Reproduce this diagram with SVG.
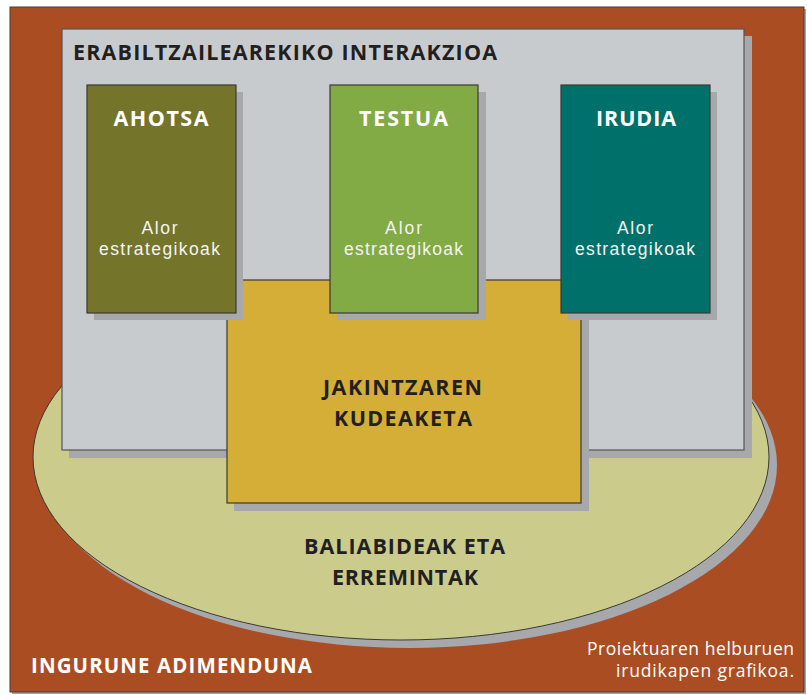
<svg xmlns="http://www.w3.org/2000/svg" width="807" height="695" viewBox="0 0 807 695">
<style>
.shadow{fill:#a7a8ac}
.box{stroke:#3a3a32;stroke-width:1.2}
.t{font-family:"Open Sans","Liberation Sans",sans-serif}
.hb{font-weight:bold;font-size:21.5px;fill:#231f20}
.hw{font-weight:bold;font-size:21.5px;fill:#ffffff;text-anchor:middle}
.sw{font-family:"Liberation Sans",Arial,sans-serif;font-size:17.5px;fill:#f4f4f0;text-anchor:middle}
</style>
<rect width="807" height="695" fill="#ffffff"/>
<g id="ingurune">
<rect x="12" y="9" width="794" height="685" class="shadow"/>
<rect x="10" y="7" width="794" height="685" fill="#ab4d22" stroke="#4a3a30" stroke-width="1"/>
<text class="t" x="31" y="673" textLength="281" lengthAdjust="spacing" style="font-weight:bold;font-size:20.5px;fill:#ffffff">INGURUNE ADIMENDUNA</text>
<text class="t" x="794" y="655" textLength="207" lengthAdjust="spacing" style="font-size:17.5px;fill:#ffffff;text-anchor:end">Proiektuaren helburuen</text>
<text class="t" x="794" y="677" textLength="178" lengthAdjust="spacing" style="font-size:17.5px;fill:#ffffff;text-anchor:end">irudikapen grafikoa.</text>
</g>
<g id="baliabideak">
<ellipse cx="409" cy="465" rx="368" ry="183" class="shadow"/>
<ellipse cx="401" cy="457" rx="368" ry="183" fill="#cbcb8c" stroke="#3a3a32" stroke-width="1"/>
<text class="t hb" x="404.5" y="554" text-anchor="middle" textLength="201" lengthAdjust="spacing">BALIABIDEAK ETA</text>
<text class="t hb" x="405" y="585" text-anchor="middle" textLength="146" lengthAdjust="spacing">ERREMINTAK</text>
</g>
<g id="interakzioa">
<rect x="69" y="36" width="683" height="422" class="shadow"/>
<rect x="62" y="29" width="682" height="421" fill="#c8cbce" stroke="#555" stroke-width="1.2"/>
<text class="t hb" x="73" y="60" textLength="424" lengthAdjust="spacing">ERABILTZAILEAREKIKO INTERAKZIOA</text>
</g>
<g id="jakintza">
<rect x="234" y="287" width="355" height="224" class="shadow"/>
<rect x="227" y="280" width="354" height="223" fill="#d5ae37" class="box"/>
<text class="t hb" x="402.5" y="395" text-anchor="middle" textLength="159" lengthAdjust="spacing">JAKINTZAREN</text>
<text class="t hb" x="403" y="426" text-anchor="middle" textLength="138" lengthAdjust="spacing">KUDEAKETA</text>
</g>
<g id="ahotsa">
<rect x="94" y="92" width="149" height="228" class="shadow"/>
<rect x="87" y="85" width="149" height="228" fill="#74752b" class="box"/>
<text class="t hw" x="161" y="126" textLength="95" lengthAdjust="spacing">AHOTSA</text>
<text class="sw" x="159.5" y="234" textLength="36" lengthAdjust="spacing">Alor</text>
<text class="sw" x="159.5" y="255" textLength="121" lengthAdjust="spacing">estrategikoak</text>
</g>
<g id="testua">
<rect x="337" y="92" width="149" height="228" class="shadow"/>
<rect x="330" y="85" width="148" height="228" fill="#82aa45" class="box"/>
<text class="t hw" x="403.5" y="126" textLength="89" lengthAdjust="spacing">TESTUA</text>
<text class="sw" x="403.5" y="234" textLength="37" lengthAdjust="spacing">Alor</text>
<text class="sw" x="403.5" y="255" textLength="119" lengthAdjust="spacing">estrategikoak</text>
</g>
<g id="irudia">
<rect x="568" y="92" width="149" height="228" class="shadow"/>
<rect x="561" y="85" width="149" height="228" fill="#00716a" class="box"/>
<text class="t hw" x="636" y="126" textLength="80" lengthAdjust="spacing">IRUDIA</text>
<text class="sw" x="635" y="234" textLength="36" lengthAdjust="spacing">Alor</text>
<text class="sw" x="635" y="255" textLength="120" lengthAdjust="spacing">estrategikoak</text>
</g>
<g id="connectors"></g>
</svg>
